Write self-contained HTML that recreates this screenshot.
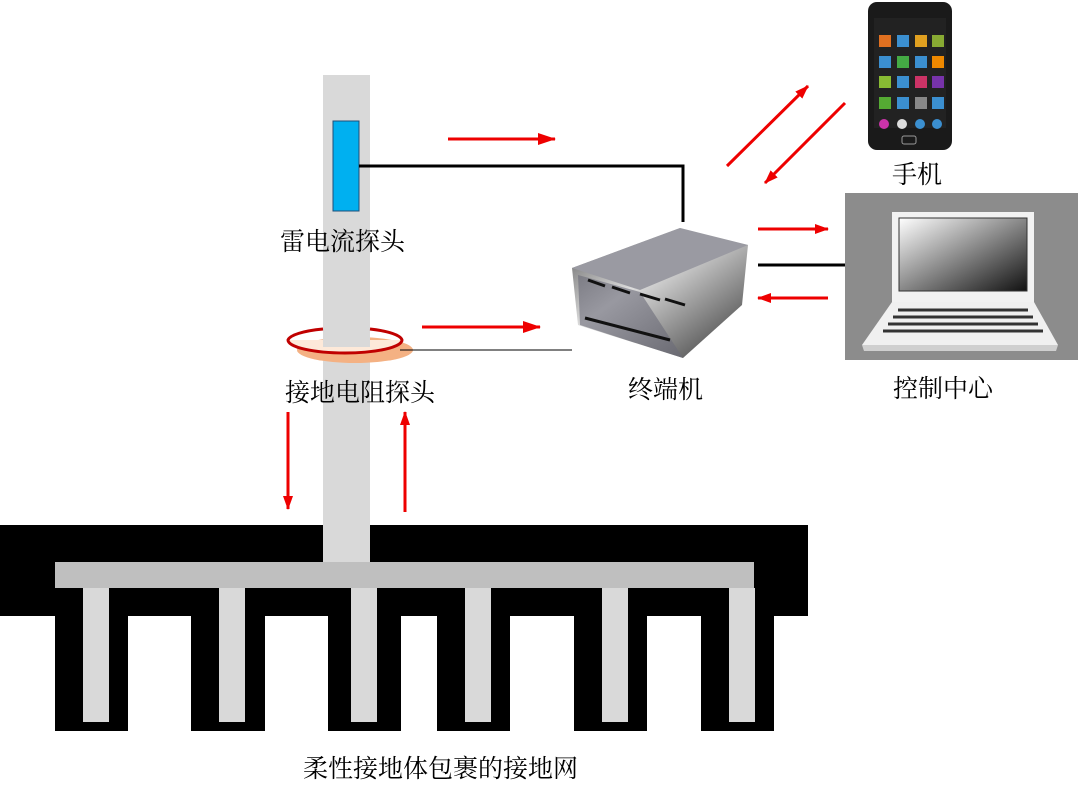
<!DOCTYPE html>
<html><head><meta charset="utf-8"><style>
html,body{margin:0;padding:0;background:#fff;}
body{width:1080px;height:782px;overflow:hidden;position:relative;}
.t{position:absolute;font-family:"Liberation Serif","Noto Serif CJK SC","Noto Sans CJK SC",serif;font-size:25px;color:#000;white-space:nowrap;}
</style></head><body>
<svg width="1080" height="782" style="position:absolute;left:0;top:0">
<defs>
<marker id="a" markerWidth="14" markerHeight="10" refX="13" refY="5" orient="auto" markerUnits="userSpaceOnUse"><path d="M0,0 L14,5 L0,10 Z" fill="#e00"/></marker>
<marker id="b" markerWidth="18" markerHeight="12" refX="17" refY="6" orient="auto" markerUnits="userSpaceOnUse"><path d="M0,0 L18,6 L0,12 Z" fill="#e00"/></marker>
<linearGradient id="scr" x1="0" y1="0" x2="1" y2="1"><stop offset="0" stop-color="#fff"/><stop offset="1" stop-color="#111"/></linearGradient>
<linearGradient id="box" x1="0" y1="0" x2="1" y2="1"><stop offset="0" stop-color="#555"/><stop offset="0.4" stop-color="#ddd"/><stop offset="0.7" stop-color="#888"/><stop offset="1" stop-color="#333"/></linearGradient>
</defs>
<rect x="0" y="525" width="808" height="91" fill="#000"/>
<g fill="#000">
<rect x="55" y="610" width="73" height="121"/><rect x="191" y="610" width="74" height="121"/>
<rect x="328" y="610" width="73" height="121"/><rect x="437" y="610" width="73" height="121"/>
<rect x="574" y="610" width="73" height="121"/><rect x="701" y="610" width="73" height="121"/>
</g>
<rect x="323" y="75" width="47" height="487" fill="#d9d9d9"/>
<rect x="55" y="562" width="699" height="26" fill="#bfbfbf"/>
<g fill="#d9d9d9">
<rect x="83" y="588" width="26" height="134"/><rect x="219" y="588" width="26" height="134"/>
<rect x="351" y="588" width="26" height="134"/><rect x="465" y="588" width="26" height="134"/>
<rect x="602" y="588" width="26" height="134"/><rect x="729" y="588" width="26" height="134"/>
</g>
<rect x="333" y="121" width="26" height="90" fill="#00b0f0" stroke="#1f4e79" stroke-width="1"/>
<polyline points="359,166 683,166 683,222" fill="none" stroke="#000" stroke-width="3"/>
<ellipse cx="355" cy="350" rx="58" ry="13" fill="#f4b183"/>
<path d="M288,340 A57,13 0 0 0 402,340" fill="#fde9d9" stroke="none"/>
<rect x="323" y="325" width="47" height="22" fill="#d9d9d9"/>
<path d="M323,329 A57,13 0 0 0 288,340 A57,13 0 0 0 402,340 A57,13 0 0 0 370,329" fill="none" stroke="#c00000" stroke-width="3"/>
<line x1="400" y1="350" x2="572" y2="350" stroke="#000" stroke-width="1"/>
<g stroke="#e00" stroke-width="3" fill="none">
<line x1="448" y1="139" x2="555" y2="139" marker-end="url(#b)"/>
<line x1="422" y1="327" x2="540" y2="327" marker-end="url(#b)"/>
<line x1="288" y1="412" x2="288" y2="509" marker-end="url(#a)"/>
<line x1="405" y1="512" x2="405" y2="412" marker-end="url(#a)"/>
<line x1="727" y1="166" x2="808" y2="86" marker-end="url(#a)"/>
<line x1="845" y1="103" x2="765" y2="183" marker-end="url(#a)"/>
<line x1="758" y1="229" x2="828" y2="229" marker-end="url(#a)"/>
<line x1="828" y1="298" x2="758" y2="298" marker-end="url(#a)"/>
</g>
<line x1="758" y1="265" x2="846" y2="265" stroke="#000" stroke-width="3"/>
<polygon points="572,268 680,228 748,245 742,305 683,358 578,325" fill="url(#box)"/>
<polygon points="572,268 680,228 748,245 640,290" fill="#9a9aa2"/>
<polygon points="578,275 640,292 683,358 580,325" fill="#6a6a78" opacity="0.6"/>
<g stroke="#111" stroke-width="3"><line x1="588" y1="280" x2="605" y2="286"/><line x1="612" y1="287" x2="630" y2="293"/><line x1="640" y1="294" x2="660" y2="300"/><line x1="665" y1="299" x2="685" y2="305"/><line x1="585" y1="318" x2="670" y2="340"/></g>
<rect x="868" y="2" width="84" height="148" rx="9" fill="#1a1a1a"/>
<rect x="874" y="18" width="72" height="110" fill="#222"/>
<g fill="#3b8fd0"><rect x="879" y="35" width="12" height="12" fill="#e07020"/><rect x="897" y="35" width="12" height="12"/><rect x="915" y="35" width="12" height="12" fill="#e0a020"/><rect x="932" y="35" width="12" height="12" fill="#8a3"/>
<rect x="879" y="56" width="12" height="12"/><rect x="897" y="56" width="12" height="12" fill="#4a4"/><rect x="915" y="56" width="12" height="12"/><rect x="932" y="56" width="12" height="12" fill="#e80"/>
<rect x="879" y="76" width="12" height="12" fill="#8b3"/><rect x="897" y="76" width="12" height="12"/><rect x="915" y="76" width="12" height="12" fill="#c36"/><rect x="932" y="76" width="12" height="12" fill="#73a"/>
<rect x="879" y="97" width="12" height="12" fill="#5a3"/><rect x="897" y="97" width="12" height="12"/><rect x="915" y="97" width="12" height="12" fill="#888"/><rect x="932" y="97" width="12" height="12"/>
<circle cx="884" cy="124" r="5" fill="#c3a"/><circle cx="902" cy="124" r="5" fill="#ddd"/><circle cx="920" cy="124" r="5"/><circle cx="937" cy="124" r="5"/></g>
<rect x="902" y="136" width="14" height="8" rx="2" fill="none" stroke="#999"/>
<rect x="845" y="193" width="233" height="167" fill="#8c8c8c"/>
<rect x="892" y="212" width="142" height="90" fill="#f2f2f2"/>
<rect x="899" y="218" width="128" height="73" fill="url(#scr)" stroke="#333"/>
<polygon points="892,302 1034,302 1058,345 862,345" fill="#f0f0f0"/>
<g stroke="#333" stroke-width="3">
<line x1="898" y1="310" x2="1028" y2="310"/><line x1="893" y1="317" x2="1033" y2="317"/><line x1="888" y1="324" x2="1038" y2="324"/><line x1="883" y1="331" x2="1043" y2="331"/></g>
<polygon points="862,345 1058,345 1056,351 864,351" fill="#cfcfcf"/>
</svg>
<div class="t" style="left:280px;top:222px">雷电流探头</div>
<div class="t" style="left:285px;top:373px">接地电阻探头</div>
<div class="t" style="left:628px;top:370px">终端机</div>
<div class="t" style="left:892px;top:155px">手机</div>
<div class="t" style="left:893px;top:369px">控制中心</div>
<div class="t" style="left:303px;top:749px">柔性接地体包裹的接地网</div>
</body></html>
